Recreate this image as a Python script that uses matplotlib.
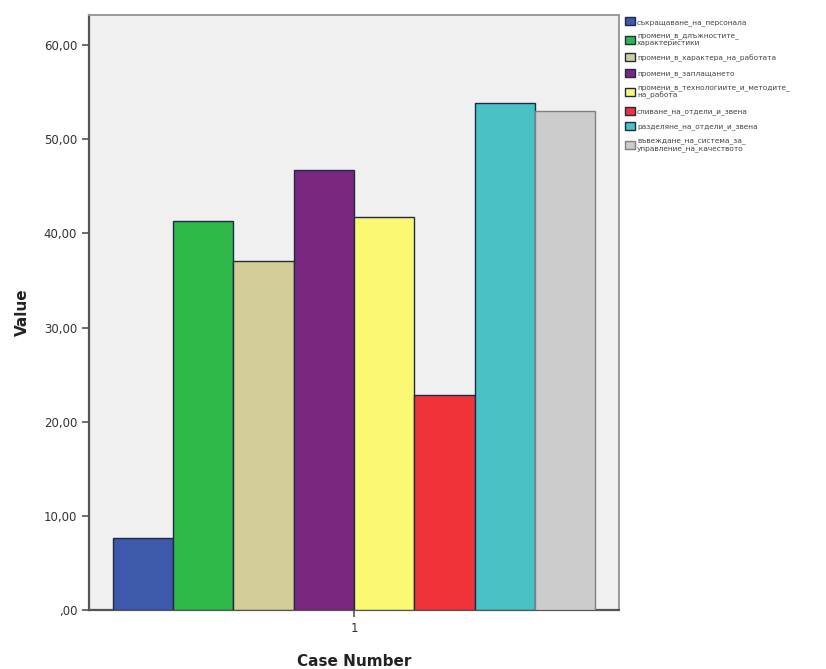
"""
SPSS-style grouped bar chart: one case, eight change categories.
"""

import matplotlib

matplotlib.use("Agg")
import matplotlib.pyplot as plt
import numpy as np
from matplotlib.ticker import FuncFormatter

LABELS = [
    "съкращаване_на_персонала",
    "промени_в_длъжностите_\nхарактеристики",
    "промени_в_характера_на_работата",
    "промени_в_заплащането",
    "промени_в_технологиите_и_методите_\nна_работа",
    "сливане_на_отдели_и_звена",
    "разделяне_на_отдели_и_звена",
    "въвеждане_на_система_за_\nуправление_на_качеството",
]
VALUES = [7.6, 41.35, 37.1, 46.7, 41.7, 22.8, 53.9, 52.95]
COLORS = ["#3e58ac", "#2eb848", "#d3ce97", "#7a287f",
          "#fbf873", "#ef3338", "#48c2c5", "#cccccc"]
EDGES = ["#1f2a44"] * 7 + ["#808080"]
CASES = [1]


def _fmt(v, _pos):
    s = f"{v:.2f}".replace(".", ",")
    return s[1:] if s.startswith("0,") else s


fig = plt.figure(figsize=(8.26, 6.69), dpi=100)
ax = fig.add_axes([89 / 826, 59 / 669, 530 / 826, 595 / 669])
ax.set_facecolor("#f0f0f0")

group_w = 0.91
n = len(VALUES)
w = group_w / n
offsets = (np.arange(n) - (n - 1) / 2) * w
handles = []
for i, (val, col, ec, lab) in enumerate(zip(VALUES, COLORS, EDGES, LABELS)):
    b = ax.bar(CASES[0] + offsets[i], val, width=w, color=col,
               edgecolor=ec, linewidth=1.0, label=lab, zorder=3)
    handles.append(b)

ax.set_xlim(0.5, 1.5)
ax.set_ylim(0, 63.2)
ax.set_yticks([0, 10, 20, 30, 40, 50, 60])
ax.yaxis.set_major_formatter(FuncFormatter(_fmt))
ax.set_xticks(CASES)
ax.set_xticklabels([str(c) for c in CASES])

for side in ("left", "bottom"):
    ax.spines[side].set_color("#555555")
    ax.spines[side].set_linewidth(1.6)
for side in ("top", "right"):
    ax.spines[side].set_color("#999999")
    ax.spines[side].set_linewidth(1.4)

ax.tick_params(axis="both", direction="out", length=5, width=1.2,
               color="#555555", labelsize=8.5, labelcolor="#333333")

ax.set_ylabel("Value", fontsize=11, fontweight="bold", color="#222222",
              labelpad=10)
ax.set_xlabel("Case Number", fontsize=11, fontweight="bold", color="#222222",
              labelpad=14)

fig.legend(handles=handles, labels=LABELS, loc="upper left",
           bbox_to_anchor=(622 / 826, 1 - 14.5 / 669), frameon=False,
           fontsize=5.3, handlelength=1.3, handleheight=1.3,
           handletextpad=0.35, labelspacing=1.0, borderaxespad=0,
           labelcolor="#444444")

fig.savefig("out.png", dpi=100)
